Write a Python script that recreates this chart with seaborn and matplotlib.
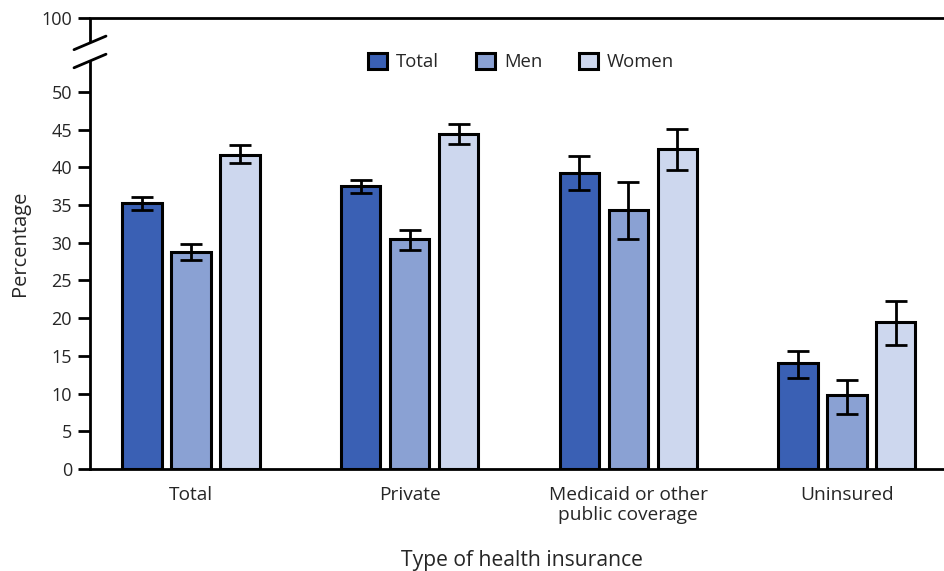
import matplotlib
matplotlib.use("Agg")
import matplotlib.pyplot as plt
import numpy as np
import pandas as pd
import seaborn as sns

# Percentages by type of health insurance and sex, with 95% confidence limits
insurance = ["Total", "Private", "Medicaid or other\npublic coverage", "Uninsured"]
groups = ["Total", "Men", "Women"]
pct_total = [35.3, 37.5, 39.3, 14.0]
pct_men = [28.8, 30.5, 34.3, 9.8]
pct_women = [41.7, 44.4, 42.4, 19.5]
lo_total = [34.4, 36.6, 37.0, 12.1]
hi_total = [36.1, 38.3, 41.5, 15.6]
lo_men = [27.7, 29.1, 30.5, 7.3]
hi_men = [29.8, 31.7, 38.0, 11.8]
lo_women = [40.6, 43.1, 39.6, 16.4]
hi_women = [42.9, 45.7, 45.1, 22.3]
yticks = [0, 5, 10, 15, 20, 25, 30, 35, 40, 45, 50]

colors = ["#3A60B4", "#8AA1D3", "#CDD7EE"]

values = {"Total": pct_total, "Men": pct_men, "Women": pct_women}
lows = {"Total": lo_total, "Men": lo_men, "Women": lo_women}
highs = {"Total": hi_total, "Men": hi_men, "Women": hi_women}

rows = []
for g in groups:
    for i, ins in enumerate(insurance):
        rows.append({"insurance": ins, "group": g, "pct": values[g][i]})
df = pd.DataFrame(rows)

sns.set_theme(style="white")
plt.rcParams["font.family"] = ["Open Sans", "DejaVu Sans"]

fig = plt.figure(figsize=(9.44, 5.71), dpi=100)
ax = fig.add_axes([90 / 944, 1 - 469 / 571, 854 / 944, 451 / 571])

sns.barplot(data=df, x="insurance", y="pct", hue="group", hue_order=groups,
            order=insurance, palette=colors, saturation=1, width=0.672,
            gap=0.2, edgecolor="black", linewidth=2.2, errorbar=None, ax=ax)

# Confidence-interval whiskers placed on each bar
for container, g in zip(ax.containers, groups):
    xs = [p.get_x() + p.get_width() / 2 for p in container.patches]
    v = np.array(values[g])
    yerr = np.vstack([v - np.array(lows[g]), np.array(highs[g]) - v])
    ax.errorbar(xs, v, yerr=yerr, fmt="none", ecolor="black",
                elinewidth=2, capsize=8, capthick=2, zorder=5)

# Compressed upper region: 50 up to a top tick labeled 100
top = 59.8
ax.set_ylim(0, top)
ax.set_xlim(-0.462, 3.444)
ax.set_yticks(yticks + [top])
ax.set_yticklabels([str(t) for t in yticks] + ["100"], fontsize=13)
ax.tick_params(axis="y", which="major", direction="out", length=9, width=2,
               color="black", left=True, pad=4)
ax.tick_params(axis="x", bottom=False, labelsize=13.8, pad=6)

ax.spines["right"].set_visible(False)
for side in ["top", "bottom", "left"]:
    ax.spines[side].set_color("black")
    ax.spines[side].set_linewidth(2)
ax.spines["left"].set_bounds(0, 54.0)

ytr = ax.get_yaxis_transform()
ax.plot([0, 0], [56.6, top], color="black", lw=2, transform=ytr,
        clip_on=False, solid_capstyle="butt")
dx = 16 / 854
for y0, y1 in [(55.6, 57.4), (53.2, 55.0)]:
    ax.plot([-dx, dx], [y0, y1], color="black", lw=2, transform=ytr,
            clip_on=False)

ax.set_xlabel("Type of health insurance", fontsize=15.2, va="center")
ax.xaxis.set_label_coords(0.506, -0.202)
ax.set_ylabel("Percentage", fontsize=14.5, labelpad=8)

handles, labels = ax.get_legend_handles_labels()
ax.legend(handles, labels, loc="upper center", bbox_to_anchor=(0.505, 0.96),
          ncol=3, frameon=False, fontsize=13.3, handlelength=1.0,
          handleheight=1.0, columnspacing=2.0, handletextpad=0.5)

fig.savefig("out.png", dpi=100)
